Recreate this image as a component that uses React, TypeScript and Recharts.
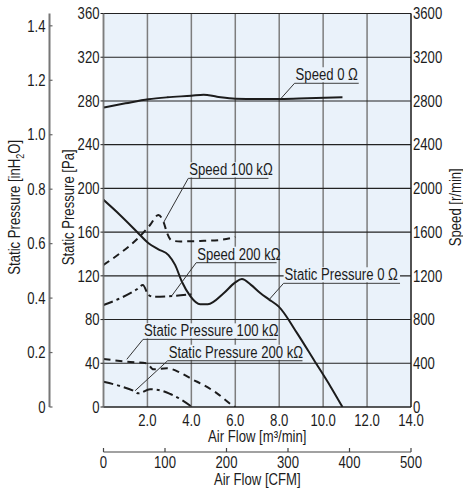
import React from 'react';
import { ComposedChart, Line, XAxis, YAxis, CartesianGrid, ReferenceLine } from 'recharts';

const FONT = "'Liberation Sans', Arial, sans-serif";
const SX = 0.82;
const BG = '#EAF2FA';
const INK = '#1c1c1c';

// tick labels
const flowTicks = [2, 4, 6, 8, 10, 12, 14];
const cfmTicks = [0, 100, 200, 300, 400, 500];
const paTicks = [0, 40, 80, 120, 160, 200, 240, 280, 320, 360];
const inh2oTicks = [0, 0.2, 0.4, 0.6, 0.8, 1.0, 1.2, 1.4];
const speedTicks = [0, 400, 800, 1200, 1600, 2000, 2400, 2800, 3200, 3600];

// series: [air flow m3/min, value]
const speed0: [number, number][] = [[0, 2740], [1.0, 2778], [2.04, 2815], [2.9, 2833], [4.0, 2848], [4.56, 2857], [5.17, 2839], [6.0, 2821], [7.0, 2818], [8.06, 2818], [9.28, 2824], [10.88, 2833]];
const speed100k: [number, number][] = [[0, 1300], [0.75, 1406], [1.52, 1534], [2.12, 1665], [2.5, 1757], [2.73, 1695], [2.9, 1589], [3.11, 1522], [3.5, 1515], [4.4, 1519], [5.3, 1528], [6.0, 1555]];
const speed200k: [number, number][] = [[0, 933], [0.75, 994], [1.52, 1077], [1.79, 1116], [2.05, 1025], [2.27, 1009], [3.19, 1016], [4.0, 1031]];
const static0: [number, number][] = [[0, 189.5], [0.75, 175.7], [1.52, 160.4], [2.05, 149.8], [2.5, 144.3], [2.96, 139], [3.26, 130], [3.57, 114.6], [3.95, 101.5], [4.4, 94], [4.75, 94], [5.47, 104], [6.0, 114], [6.3, 117], [6.7, 112], [7.15, 104], [7.53, 98.5], [7.98, 91.8], [8.82, 67.4], [9.58, 43], [10.34, 18.6], [10.88, 0]];
const static100k: [number, number][] = [[0, 43.9], [1.06, 41.5], [1.97, 40], [2.27, 34.5], [2.89, 35.4], [3.49, 31.4], [4.1, 24.7], [4.4, 21.7], [5.17, 12.5], [5.85, 1.8], [6.0, 0]];
const static200k: [number, number][] = [[0, 23.1], [0.75, 19.2], [1.36, 14.9], [1.59, 12.5], [2.12, 16.2], [2.5, 15.6], [3.04, 11.9], [3.57, 6.4], [4.03, 0]];

// annotation labels (air flow range of underline, static pressure level, leader target)
const annoText = ['Speed 0 Ω', 'Speed 100 kΩ', 'Speed 200 kΩ', 'Static Pressure 0 Ω', 'Static Pressure 100 kΩ', 'Static Pressure 200 kΩ'];
const annoStart = [8.7, 3.86, 4.22, 8.2, 1.8, 2.92];
const annoEnd = [11.62, 7.51, 7.88, 13.5, 7.88, 9.06];
const annoLevel = [296.2, 209.2, 132, 113.2, 61.9, 42.3];
const annoTargetX = [8.06, 2.73, 3.11, 7.53, 1.06, 1.44];
const annoTargetY = [281.8, 168.6, 101.8, 98, 43.6, 14.9];

const PA_PER_INH2O = 249.089;
const CFM_PER_M3MIN = 35.3147;

const toPts = (arr: [number, number][]) => arr.map(([x, y]) => ({ x, y }));
// same static-pressure curve expressed in the secondary units (CFM, inH2O), drawn invisibly
const static0Imperial = static0.map(([x, y]) => ({ cfm: x * CFM_PER_M3MIN, inh: y / PA_PER_INH2O }));

const CText = ({ x, y, anchor = 'start', dy = '0', rotate = 0, children }: any) => (
  <text
    transform={`translate(${x} ${y})${rotate ? ` rotate(${rotate})` : ''} scale(${SX} 1)`}
    x={0} y={0} dy={dy} textAnchor={anchor} fill={INK} fontSize={16} fontFamily={FONT}>
    {children}
  </text>
);

const FlowTick = (props: any) => {
  const { x, y, payload } = props;
  return <CText x={x} y={y} anchor="middle" dy="0.71em">{payload.value.toFixed(1)}</CText>;
};

const CfmTick = (props: any) => {
  const { x, y, payload } = props;
  const axisY = y - 5;
  return (
    <g>
      <line x1={x} x2={x} y1={axisY - 4} y2={axisY} stroke="#444" strokeWidth={1.2} />
      <CText x={x} y={y} anchor="middle" dy="0.71em">{payload.value}</CText>
    </g>
  );
};

const PaTick = (props: any) => {
  const { x, y, payload } = props;
  return <CText x={x} y={y} anchor="end" dy="0.355em">{payload.value}</CText>;
};

const SpeedTick = (props: any) => {
  const { x, y, payload } = props;
  return <CText x={x} y={y} anchor="start" dy="0.355em">{payload.value}</CText>;
};

const InTick = (props: any) => {
  const { x, y, payload } = props;
  const v = payload.value;
  return (
    <g>
      <line x1={x + 4} x2={x + 7} y1={y} y2={y} stroke="#666" strokeWidth={1.2} />
      <CText x={x} y={y} anchor="end" dy="0.355em">{v === 0 ? '0' : v.toFixed(1)}</CText>
    </g>
  );
};

const vTitle = (text: React.ReactNode, dx: number) => (props: any) => {
  const vb = props.viewBox;
  const cx = vb.x + dx;
  const cy = vb.y + vb.height / 2 - 3;
  return <CText x={cx} y={cy} rotate={-90} anchor="middle" dy="0.355em">{text}</CText>;
};

const hTitle = (text: React.ReactNode, dy: number) => (props: any) => {
  const vb = props.viewBox;
  const cx = vb.x + vb.width / 2;
  return <CText x={cx} y={vb.y + dy} anchor="middle">{text}</CText>;
};

const annoLabel = (text: string) => (props: any) => {
  const vb = props.viewBox;
  if (!vb) return null;
  return (
    <g>
      <rect x={vb.x} y={vb.y - 16} width={vb.width} height={15} fill={BG} />
      <CText x={vb.x + 1} y={vb.y - 3}>{text}</CText>
    </g>
  );
};

export default function App() {
  return (
    <div style={{ position: 'absolute', left: 0, top: 0, fontFamily: FONT }}>
      <ComposedChart width={463} height={490} margin={{ top: 13.5, right: 0, bottom: 0, left: 0 }}>
        <CartesianGrid xAxisId="x1" yAxisId="y1" horizontal={false} vertical stroke="#7d7d7d" strokeWidth={1.5} fill={BG} />
        <CartesianGrid xAxisId="x1" yAxisId="y1" horizontal vertical={false} stroke="#222" strokeWidth={1.1} />
        <XAxis xAxisId="x1" type="number" dataKey="x" domain={[0, 14]} ticks={flowTicks} allowDataOverflow
          height={45} tickLine={false} tickSize={0} tickMargin={8}
          axisLine={{ stroke: '#222', strokeWidth: 1.2 }}
          tick={<FlowTick />}
          label={hTitle(<>Air Flow [m³/min]</>, 35)} />
        <XAxis xAxisId="x2" type="number" dataKey="cfm" domain={[0, 500]} ticks={cfmTicks} allowDataOverflow
          height={38} tickLine={false} tickSize={0} tickMargin={5}
          axisLine={{ stroke: '#444', strokeWidth: 1.2 }}
          tick={<CfmTick />}
          label={hTitle('Air Flow [CFM]', 33)} />
        <YAxis yAxisId="y1" orientation="left" type="number" domain={[0, 360]} ticks={paTicks} width={54} allowDataOverflow
          tickSize={3} tickMargin={1} tickLine={{ stroke: '#222' }}
          axisLine={{ stroke: '#7d7d7d', strokeWidth: 1.5 }}
          tick={<PaTick />}
          label={vTitle('Static Pressure [Pa]', 18.5)} />
        <YAxis yAxisId="y2" orientation="left" type="number" domain={[0, 360 / PA_PER_INH2O]} ticks={inh2oTicks} width={49.5} allowDataOverflow
          tickLine={false} tickSize={0} tickMargin={4}
          axisLine={{ stroke: '#777', strokeWidth: 2 }}
          tick={<InTick />}
          label={vTitle(<><tspan>Static Pressure [inH</tspan><tspan fontSize={11} dy={4}>2</tspan><tspan dy={-4}>O]</tspan></>, 14)} />
        <YAxis yAxisId="y3" orientation="right" type="number" domain={[0, 3600]} ticks={speedTicks} width={52} allowDataOverflow
          tickLine={false} tickSize={0} tickMargin={2}
          axisLine={{ stroke: '#222', strokeWidth: 1.2 }}
          tick={<SpeedTick />}
          label={vTitle('Speed [r/min]', 44)} />

        <Line xAxisId="x2" yAxisId="y2" data={static0Imperial} dataKey="inh" type="monotone" stroke="transparent" strokeWidth={0} dot={false} activeDot={false} isAnimationActive={false} />

        <Line xAxisId="x1" yAxisId="y3" data={toPts(speed0)} dataKey="y" type="monotone" stroke={INK} strokeWidth={2} dot={false} isAnimationActive={false} />
        <Line xAxisId="x1" yAxisId="y3" data={toPts(speed100k)} dataKey="y" type="monotone" stroke={INK} strokeWidth={2} strokeDasharray="7 5" dot={false} isAnimationActive={false} />
        <Line xAxisId="x1" yAxisId="y3" data={toPts(speed200k)} dataKey="y" type="monotone" stroke={INK} strokeWidth={2} strokeDasharray="10 4 3 4" dot={false} isAnimationActive={false} />
        <Line xAxisId="x1" yAxisId="y1" data={toPts(static0)} dataKey="y" type="monotone" stroke={INK} strokeWidth={2} dot={false} isAnimationActive={false} />
        <Line xAxisId="x1" yAxisId="y1" data={toPts(static100k)} dataKey="y" type="monotone" stroke={INK} strokeWidth={2} strokeDasharray="7 5" dot={false} isAnimationActive={false} />
        <Line xAxisId="x1" yAxisId="y1" data={toPts(static200k)} dataKey="y" type="monotone" stroke={INK} strokeWidth={2} strokeDasharray="10 4 3 4" dot={false} isAnimationActive={false} />

        {annoText.map((t, i) => (
          <ReferenceLine key={'u' + i} xAxisId="x1" yAxisId="y1" ifOverflow="visible"
            segment={[{ x: annoStart[i], y: annoLevel[i] }, { x: annoEnd[i], y: annoLevel[i] }]}
            stroke="#333" strokeWidth={1} label={annoLabel(t)} />
        ))}
        {annoText.map((t, i) => (
          <ReferenceLine key={'l' + i} xAxisId="x1" yAxisId="y1" ifOverflow="visible"
            segment={[{ x: annoStart[i], y: annoLevel[i] }, { x: annoTargetX[i], y: annoTargetY[i] }]}
            stroke="#333" strokeWidth={1} />
        ))}
      </ComposedChart>
    </div>
  );
}
